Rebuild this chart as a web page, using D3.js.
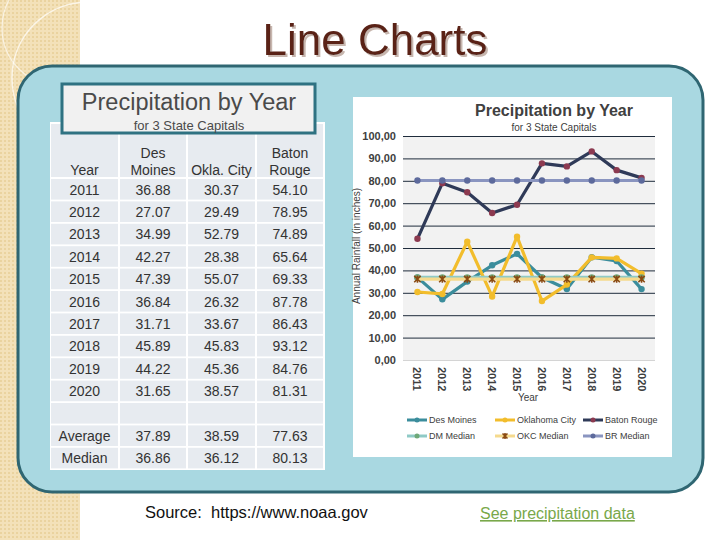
<!DOCTYPE html>
<html>
<head>
<meta charset="utf-8">
<script src="https://cdn.jsdelivr.net/npm/d3@7"></script>
<style>
  body { margin: 0; background: #fff; }
  svg { display: block; font-family: "Liberation Sans", Arial, sans-serif; }
</style>
</head>
<body>
<div id="container"></div>
<script>
// DATA ###############################
const years = [2011, 2012, 2013, 2014, 2015, 2016, 2017, 2018, 2019, 2020];
const desMoines = [36.88, 27.07, 34.99, 42.27, 47.39, 36.84, 31.71, 45.89, 44.22, 31.65];
const oklaCity = [30.37, 29.49, 52.79, 28.38, 55.07, 26.32, 33.67, 45.83, 45.36, 38.57];
const batonRouge = [54.10, 78.95, 74.89, 65.64, 69.33, 87.78, 86.43, 93.12, 84.76, 81.31];
const averages = [37.89, 38.59, 77.63];
const medians = [36.86, 36.12, 80.13];
const yTicks = [0, 10, 20, 30, 40, 50, 60, 70, 80, 90, 100];

// CONSTANTS ###############################
const width = 720, height = 540;
const plot = { left: 403, right: 655, top: 136, bottom: 360 };

const series = [
  { name: "Des Moines", values: desMoines, line: "#3b8d9c", marker: "#3b8d9c", shape: "circle" },
  { name: "Oklahoma City", values: oklaCity, line: "#f2bd2c", marker: "#f2bd2c", shape: "circle" },
  { name: "Baton Rouge", values: batonRouge, line: "#2f3a58", marker: "#8c3a50", shape: "circle" },
  { name: "DM Median", values: years.map(() => medians[0]), line: "#8fcac6", marker: "#6fa878", shape: "circle" },
  { name: "OKC Median", values: years.map(() => medians[1]), line: "#f5da8e", marker: "#8a4a12", shape: "x" },
  { name: "BR Median", values: years.map(() => medians[2]), line: "#8a95c0", marker: "#5d6a9c", shape: "circle" }
];

const svg = d3.select("#container")
  .append("svg")
  .attr("width", width)
  .attr("height", height);

// BACKGROUND ###############################
const defs = svg.append("defs");
const pat = defs.append("pattern")
  .attr("id", "beige")
  .attr("width", 4).attr("height", 4)
  .attr("patternUnits", "userSpaceOnUse");
pat.append("rect").attr("width", 4).attr("height", 4).attr("fill", "#f3e1b9");
pat.append("rect").attr("width", 2).attr("height", 2).attr("fill", "#ead39f");
defs.append("clipPath").attr("id", "stripClip")
  .append("rect").attr("width", 80).attr("height", height);
const shadow = defs.append("filter").attr("id", "shadow");
shadow.append("feDropShadow").attr("dx", 2).attr("dy", 2).attr("stdDeviation", 0.6)
  .attr("flood-color", "#b9a49a").attr("flood-opacity", 0.8);

svg.append("rect").attr("width", 80).attr("height", height).attr("fill", "url(#beige)");
const arcs = svg.append("g").attr("clip-path", "url(#stripClip)");
arcs.append("circle").attr("cx", 88).attr("cy", 78).attr("r", 76)
  .attr("fill", "none").attr("stroke", "rgba(255,255,255,0.7)").attr("stroke-width", 1.5);
arcs.append("circle").attr("cx", 60).attr("cy", 28).attr("r", 58)
  .attr("fill", "none").attr("stroke", "rgba(255,255,255,0.6)").attr("stroke-width", 1.2);

// TITLE
svg.append("text").attr("x", 375).attr("y", 55).attr("text-anchor", "middle")
  .attr("font-size", 44).attr("fill", "#5a2216").attr("filter", "url(#shadow)")
  .text("Line Charts");

// PANEL
svg.append("rect")
  .attr("x", 18).attr("y", 66).attr("width", 685).attr("height", 426)
  .attr("rx", 34).attr("ry", 34)
  .attr("fill", "#a9d8e1").attr("stroke", "#2f6672").attr("stroke-width", 3);

// TABLE ###############################
const colEdges = [50, 119, 187, 256, 324];
svg.append("rect").attr("x", 50).attr("y", 122).attr("width", 275).attr("height", 348).attr("fill", "#fff");

const tableRows = years.map((y, i) => [String(y), desMoines[i].toFixed(2), oklaCity[i].toFixed(2), batonRouge[i].toFixed(2)]);
tableRows.push(["", "", "", ""]);
tableRows.push(["Average", ...averages.map(d => d.toFixed(2))]);
tableRows.push(["Median", ...medians.map(d => d.toFixed(2))]);

const header = [["Year"], ["Des", "Moines"], ["Okla. City"], ["Baton", "Rouge"]];
const table = svg.append("g").attr("font-size", 14).attr("fill", "#333");

header.forEach((lines, c) => {
  const x0 = colEdges[c] + 1, x1 = colEdges[c + 1] - 1;
  table.append("rect").attr("x", x0).attr("y", 124).attr("width", x1 - x0).attr("height", 53).attr("fill", "#e7ebf0");
  lines.forEach((t, k) => {
    table.append("text")
      .attr("x", (x0 + x1) / 2)
      .attr("y", 175 - (lines.length - 1 - k) * 17)
      .attr("text-anchor", "middle")
      .text(t);
  });
});

tableRows.forEach((row, r) => {
  const top = 179 + r * 22.4;
  row.forEach((t, c) => {
    const x0 = colEdges[c] + 1, x1 = colEdges[c + 1] - 1;
    table.append("rect").attr("x", x0).attr("y", top).attr("width", x1 - x0).attr("height", 20.6).attr("fill", "#e7ebf0");
    table.append("text")
      .attr("x", (x0 + x1) / 2)
      .attr("y", top + 15.5)
      .attr("text-anchor", "middle")
      .text(t);
  });
});

// TABLE TITLE BOX
svg.append("rect").attr("x", 62).attr("y", 84).attr("width", 253).attr("height", 49)
  .attr("fill", "#f1f1f1").attr("stroke", "#2f7282").attr("stroke-width", 3);
svg.append("text").attr("x", 189).attr("y", 110).attr("text-anchor", "middle")
  .attr("font-size", 23.5).attr("fill", "#4a4a4a").text("Precipitation by Year");
svg.append("text").attr("x", 189).attr("y", 130).attr("text-anchor", "middle")
  .attr("font-size", 13).attr("fill", "#4a4a4a").text("for 3 State Capitals");

// CHART ###############################
svg.append("rect").attr("x", 353).attr("y", 97).attr("width", 319).attr("height", 360).attr("fill", "#fff");
svg.append("text").attr("x", 554).attr("y", 116).attr("text-anchor", "middle")
  .attr("font-size", 16).attr("font-weight", "bold").attr("fill", "#404040").text("Precipitation by Year");
svg.append("text").attr("x", 554).attr("y", 131).attr("text-anchor", "middle")
  .attr("font-size", 10).attr("fill", "#404040").text("for 3 State Capitals");

const xScale = d3.scaleBand().domain(years).range([plot.left + 2, plot.right - 1]);
const yScale = d3.scaleLinear().domain([0, 100]).range([plot.bottom, plot.top]);
const xc = d => xScale(d) + xScale.bandwidth() / 2;

svg.append("rect").attr("x", plot.left).attr("y", plot.top)
  .attr("width", plot.right - plot.left).attr("height", plot.bottom - plot.top).attr("fill", "#f2f2f2");

// y axis with gridlines
const yAxis = svg.append("g")
  .attr("transform", `translate(${plot.left},0)`)
  .call(d3.axisLeft(yScale).tickValues(yTicks).tickSize(-(plot.right - plot.left)).tickPadding(7)
    .tickFormat(d => d.toFixed(2).replace(".", ",")));
yAxis.select(".domain").remove();
yAxis.selectAll(".tick line").attr("stroke", d => d === 0 ? "#d4d4d4" : "#1f2c3c");
yAxis.selectAll(".tick text").attr("font-size", 11).attr("font-weight", "bold")
  .attr("fill", "#404040").attr("font-family", "Liberation Sans, Arial, sans-serif");

// x axis
const xAxis = svg.append("g")
  .attr("transform", `translate(0,${plot.bottom})`)
  .call(d3.axisBottom(xScale).tickSize(0).tickPadding(0));
xAxis.select(".domain").remove();
xAxis.selectAll(".tick text")
  .attr("font-size", 11).attr("font-weight", "bold").attr("fill", "#404040")
  .attr("font-family", "Liberation Sans, Arial, sans-serif")
  .attr("text-anchor", "start")
  .attr("transform", "translate(-4,7) rotate(90)")
  .attr("dy", 0).attr("y", 0).attr("x", 0);

svg.append("text").attr("x", 528).attr("y", 401).attr("text-anchor", "middle")
  .attr("font-size", 10).attr("fill", "#404040").text("Year");
svg.append("text")
  .attr("transform", "translate(360,246) rotate(-90)")
  .attr("text-anchor", "middle")
  .attr("font-size", 10).attr("fill", "#404040").text("Annual Rainfall (in inches)");

// lines
const line = d3.line().x((d, i) => xc(years[i])).y(d => yScale(d));

function drawMarker(g, shape, color, x, y, r) {
  if (shape === "x") {
    g.append("path")
      .attr("d", `M${x - r},${y - r}L${x + r},${y + r}M${x - r},${y + r}L${x + r},${y - r}M${x},${y - r - 0.5}L${x},${y + r + 0.5}`)
      .attr("stroke", color).attr("stroke-width", 1.6).attr("fill", "none");
  } else {
    g.append("circle").attr("cx", x).attr("cy", y).attr("r", r).attr("fill", color);
  }
}

series.forEach(s => {
  const g = svg.append("g");
  g.append("path")
    .datum(s.values)
    .attr("d", line)
    .attr("fill", "none")
    .attr("stroke", s.line)
    .attr("stroke-width", 3.2)
    .attr("stroke-linejoin", "round");
  s.values.forEach((v, i) => drawMarker(g, s.shape, s.marker, xc(years[i]), yScale(v), 3.2));
});

// legend
const legendX = [407, 495, 583];
const legendY = [420, 436];
series.forEach((s, i) => {
  const lx = legendX[i % 3], ly = legendY[Math.floor(i / 3)];
  const g = svg.append("g");
  g.append("line").attr("x1", lx).attr("x2", lx + 20).attr("y1", ly).attr("y2", ly)
    .attr("stroke", s.line).attr("stroke-width", 3);
  drawMarker(g, s.shape, s.marker, lx + 10, ly, 2.5);
  g.append("text").attr("x", lx + 22).attr("y", ly + 3.2)
    .attr("font-size", 9).attr("fill", "#404040").text(s.name);
});

// FOOTER ###############################
svg.append("text").attr("x", 145).attr("y", 518)
  .attr("font-size", 16.5).attr("fill", "#111").attr("xml:space", "preserve")
  .text("Source:  https://www.noaa.gov");
svg.append("text").attr("x", 480).attr("y", 519)
  .attr("font-size", 16).attr("fill", "#79a84a").attr("text-decoration", "underline")
  .text("See precipitation data");
</script>
</body>
</html>
